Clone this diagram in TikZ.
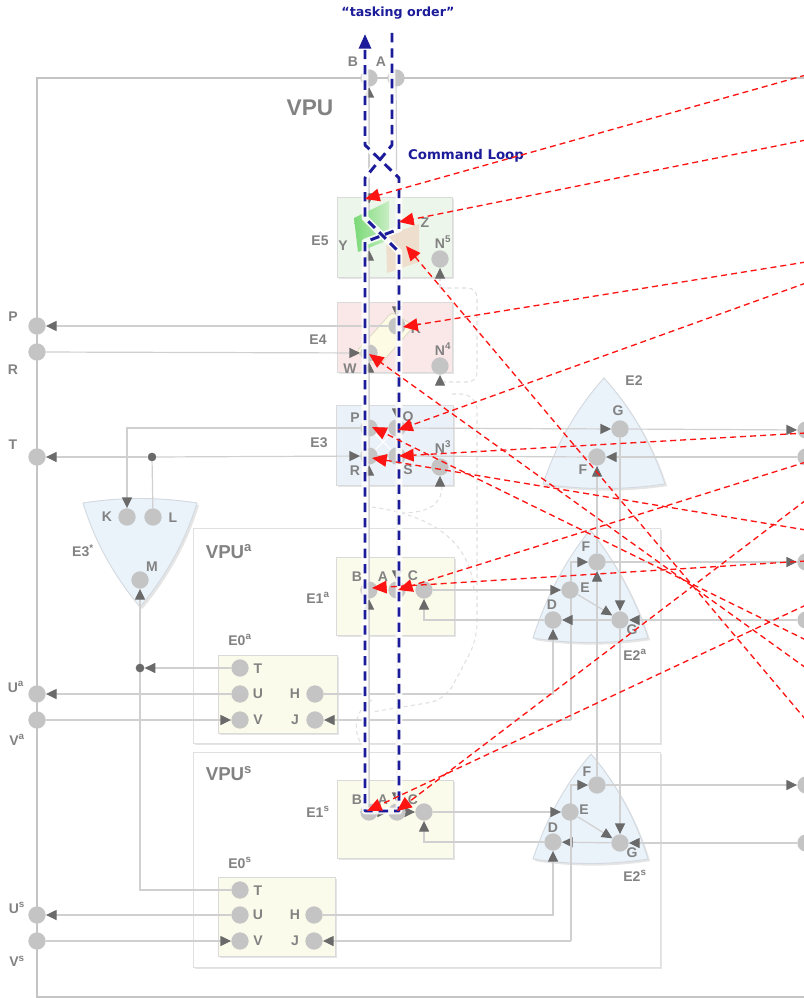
\documentclass[tikz,border=0pt]{standalone}
\usepackage{fontspec}
\setmainfont{Liberation Sans}
\newfontfamily\verdfont{DejaVu Sans}
\usetikzlibrary{arrows.meta,shadows}
\pgfdeclarelayer{bg}
\pgfdeclarelayer{lines}
\pgfdeclarelayer{top}
\pgfsetlayers{bg,lines,main,top}
\definecolor{lblgray}{HTML}{828282}
\definecolor{ahgray}{HTML}{6A6A6A}
\definecolor{portgray}{HTML}{C4C4C4}
\definecolor{linegray}{HTML}{D0D0D0}
\definecolor{boxline}{HTML}{DADADA}
\definecolor{outerline}{HTML}{C4C4C4}
\definecolor{ghostgray}{HTML}{E0E0E0}
\definecolor{cream}{HTML}{FBFBEC}
\definecolor{e5green}{HTML}{EDF6EA}
\definecolor{e4pink}{HTML}{FAE8E8}
\definecolor{e3blue}{HTML}{EAF1F8}
\definecolor{trifill}{HTML}{EAF2FA}
\definecolor{triline}{HTML}{D4DAE0}
\definecolor{loopblue}{HTML}{1C1C9A}
\definecolor{redline}{HTML}{FF1414}
\definecolor{ygreenA}{HTML}{74D870}
\definecolor{ygreenB}{HTML}{C6EEC2}
\definecolor{ztan}{HTML}{EEDCCB}
\definecolor{kcream}{HTML}{FDFBE3}
\tikzset{
  port/.style={circle,fill=portgray,minimum size=13pt,inner sep=0pt},
  dotnode/.style={circle,fill=ahgray,minimum size=6.5pt,inner sep=0pt},
  lbl/.style={text=lblgray,font=\bfseries\fontsize{10.5}{12}\selectfont,inner sep=0pt},
  biglbl/.style={text=lblgray,font=\bfseries\fontsize{17}{19}\selectfont,inner sep=0pt},
  vpulbl/.style={text=lblgray,font=\bfseries\fontsize{14}{16}\selectfont,inner sep=0pt},
  bluelbl/.style={text=loopblue,font=\verdfont\bfseries\fontsize{9.5}{11}\selectfont,inner sep=0pt},
  conn/.style={draw=linegray,line width=0.9pt},
  gtip/.style={-{Triangle[length=8pt,width=7.5pt,color=ahgray]}},
  bothtip/.style={{Triangle[length=8pt,width=7.5pt,color=ahgray]}-{Triangle[length=8pt,width=7.5pt,color=ahgray]}},
  ghost/.style={draw=ghostgray,line width=0.8pt,dash pattern=on 3pt off 2.5pt},
  shd/.style={drop shadow={opacity=0.2,shadow xshift=1.6pt,shadow yshift=-1.6pt}},
  ebox/.style={draw=boxline,line width=0.6pt,shd},
  trist/.style={fill=trifill,draw=triline,line width=0.7pt,shd},
  redarr/.style={draw=redline,line width=1pt,dash pattern=on 4.5pt off 3pt,-{Triangle[length=11pt,width=9.5pt,color=redline]}},
  loopunder/.style={draw=white,line width=5pt,opacity=0.85,line join=round},
  loopline/.style={draw=loopblue,line width=2.2pt,dash pattern=on 7pt off 4.5pt,line join=round},
}
\begin{document}
\begin{tikzpicture}[x=0.75pt,y=-0.75pt]
\useasboundingbox (0,0) rectangle (803,998);

% ---------- ports ----------
\node[port] (pP) at (37,326) {};
\node[port] (pR) at (37,352) {};
\node[port] (pT) at (37,457) {};
\node[port] (pUa) at (37,694) {};
\node[port] (pVa) at (37,720) {};
\node[port] (pUs) at (37,915) {};
\node[port] (pVs) at (37,941) {};
\node[port] (qG) at (806,430) {};
\node[port] (qF) at (806,457) {};
\node[port] (qFa) at (806,562) {};
\node[port] (qGa) at (806,620) {};
\node[port] (qFs) at (806,785) {};
\node[port] (qGs) at (806,843) {};
\node[port] (tB) at (369,78) {};
\node[port] (tA) at (396,78) {};
\coordinate (Ytop) at (369,204);
\coordinate (Ybot) at (369,250);
\coordinate (Zc) at (397,240);
\node[port] (N5) at (440,259) {};
\node[port] (K4) at (397,326) {};
\node[port] (W4) at (369,353) {};
\node[port] (N4) at (440,366) {};
\node[port] (P3) at (369,428) {};
\node[port] (Q3) at (397,428) {};
\node[port] (R3) at (369,456) {};
\node[port] (S3) at (397,456) {};
\node[port] (N3) at (440,467) {};
\node[port] (G2) at (620,429) {};
\node[port] (F2) at (597,457) {};
\node[port] (K3s) at (127,517) {};
\node[port] (L3s) at (153,517) {};
\node[port] (M3s) at (140,580) {};
\node[dotnode] (dotT) at (152,457) {};
\node[dotnode] (dotM) at (140,668) {};
\node[port] (B1a) at (369,590) {};
\node[port] (A1a) at (397,590) {};
\node[port] (C1a) at (424,590) {};
\node[port] (F2a) at (597,562) {};
\node[port] (E2a) at (570,590) {};
\node[port] (D2a) at (553,620) {};
\node[port] (G2a) at (620,620) {};
\node[port] (T0a) at (240,668) {};
\node[port] (U0a) at (240,694) {};
\node[port] (V0a) at (240,720) {};
\node[port] (H0a) at (315,694) {};
\node[port] (J0a) at (315,720) {};
\coordinate (jA) at (571,720);
\node[port] (B1s) at (369,812) {};
\node[port] (A1s) at (397,812) {};
\node[port] (C1s) at (424,812) {};
\node[port] (F2s) at (597,785) {};
\node[port] (E2s) at (570,812) {};
\node[port] (D2s) at (553,842) {};
\node[port] (G2s) at (620,843) {};
\node[port] (T0s) at (240,890) {};
\node[port] (U0s) at (240,915) {};
\node[port] (V0s) at (240,941) {};
\node[port] (H0s) at (314,915) {};
\node[port] (J0s) at (314,941) {};
\coordinate (jS) at (571,941);

% ---------- background: frames, boxes, shapes ----------
\begin{pgfonlayer}{bg}
  \draw[draw=outerline,line width=0.8pt,fill=white,drop shadow={opacity=0.12,shadow xshift=1pt,shadow yshift=-1.5pt}] (37,78) rectangle (806,997);
  \draw[draw=ghostgray,line width=0.7pt,fill=white,shd] (193,528) rectangle (660,743);
  \draw[draw=ghostgray,line width=0.7pt,fill=white,shd] (193,752) rectangle (660,967);
  % faint dashed ghosts
  \draw[ghost,rounded corners=7pt] (440,288) -- (477,288) -- (477,382) -- (440,382);
  \draw[ghost,rounded corners=12pt] (452,394) -- (477,394) -- (477,640) -- (445,700) -- (372,712);
  \draw[ghost] (372,507) .. controls (430,515) and (470,540) .. (474,590);
  \draw[ghost] (442,486) .. controls (442,505) and (428,513) .. (400,513);
  \draw[ghost] (372,700) .. controls (355,710) and (352,730) .. (362,745);
  % element boxes
  \draw[ebox,fill=e5green] (337,197) rectangle (452,277);
  \draw[ebox,fill=e4pink] (337,302) rectangle (452,372);
  \draw[ebox,fill=e3blue] (336,405) rectangle (453,485);
  \draw[ebox,fill=cream] (336,557) rectangle (454,635);
  \draw[ebox,fill=cream] (218,655) rectangle (337,733);
  \draw[ebox,fill=cream] (337,780) rectangle (453,858);
  \draw[ebox,fill=cream] (218,877) rectangle (335,956);
  % E4 inner shape
  \draw[fill=kcream,draw=kcream!85!black,line width=0.5pt,rounded corners=3pt] (356,352) -- (392,312) -- (414,326) -- (378,367) -- cycle;
  % triangles
  \draw[trist] (604,378) .. controls (576,409) and (556,445) .. (543,484) .. controls (583,490) and (625,490) .. (665,484) .. controls (652,445) and (632,409) .. cycle;
  \draw[trist] (590,530) .. controls (564,562) and (545,600) .. (533,638) .. controls (571,644) and (610,644) .. (648,638) .. controls (636,600) and (616,562) .. cycle;
  \draw[trist] (591,754) .. controls (565,784) and (545,822) .. (533,859) .. controls (571,865) and (610,865) .. (648,859) .. controls (637,822) and (617,784) .. cycle;
  \draw[trist] (140,607) .. controls (166,576) and (185,542) .. (197,503) .. controls (159,497) and (121,497) .. (83,503) .. controls (95,542) and (114,576) .. cycle;
\end{pgfonlayer}

% ---------- connectors ----------
\begin{pgfonlayer}{lines}
  \draw[conn,gtip] (K4) -- (pP);
  \draw[conn,gtip] (pR) -- (W4);
  \draw[conn] (P3) -- (Q3);
  \draw[conn,gtip] (Q3) -- (G2);
  \draw[conn,gtip] (G2) -- (qG);
  \draw[conn,gtip] (qF) -- (F2);
  \draw[conn] (S3) -- (F2);
  \draw[conn] (R3) -- (S3);
  \draw[conn,gtip] (dotT) -- (pT);
  \draw[conn,gtip] (dotT) -- (R3);
  \draw[conn] (dotT) -- (L3s);
  \draw[conn,gtip] (P3) -| (K3s);
  \draw[conn,gtip] (T0s) -| (M3s);
  \draw[conn,gtip] (T0a) -- (dotM);
  \draw[conn,gtip] (U0a) -- (pUa);
  \draw[conn,gtip] (pVa) -- (V0a);
  \draw[conn,gtip] (H0a) -| (D2a);
  \draw[conn,gtip] (jA) -- (J0a);
  \draw[conn,gtip] (jA) |- (F2a);
  \draw[conn,gtip] (C1a) -- (E2a);
  \draw[conn,gtip] (qGa) -- (G2a);
  \draw[conn,gtip] (G2a) -- (D2a);
  \draw[conn,gtip] (D2a) -| (C1a);
  \draw[conn,gtip] (E2a) -- (G2a);
  \draw[conn,gtip] (F2a) -- (qFa);
  \draw[conn,gtip] (F2a) -- (F2);
  \draw[conn,gtip] (F2s) -- (F2a);
  \draw[conn,gtip] (G2) -- (G2a);
  \draw[conn,gtip] (G2a) -- (G2s);
  \draw[conn,gtip] (B1s) -- (A1s);
  \draw[conn,gtip] (A1s) -- (C1s);
  \draw[conn,gtip] (C1s) -- (E2s);
  \draw[conn,gtip] (qGs) -- (G2s);
  \draw[conn,gtip] (G2s) -- (D2s);
  \draw[conn,gtip] (D2s) -| (C1s);
  \draw[conn,gtip] (E2s) -- (G2s);
  \draw[conn,gtip] (F2s) -- (qFs);
  \draw[conn,gtip] (H0s) -| (D2s);
  \draw[conn,gtip] (jS) -- (J0s);
  \draw[conn,gtip] (jS) |- (F2s);
  \draw[conn,gtip] (U0s) -- (pUs);
  \draw[conn,gtip] (pVs) -- (V0s);
  % vertical chains
  \draw[conn,gtip] (B1s) -- (B1a);
  \draw[conn,gtip] (B1a) -- (R3);
  \draw[conn] (R3) -- (P3);
  \draw[conn,gtip] (P3) -- (W4);
  \draw[conn,gtip] (W4) -- (Ybot);
  \draw[conn] (Ybot) -- (Ytop);
  \draw[conn,bothtip] (tB) -- (Ytop);
  \draw[conn] (tA) -- (Zc);
  \draw[conn,gtip] (Zc) -- (K4);
  \draw[conn,gtip] (K4) -- (Q3);
  \draw[conn] (Q3) -- (S3);
  \draw[conn,gtip] (S3) -- (A1a);
  \draw[conn,gtip] (A1a) -- (A1s);
  % faint diagonals inside E3
  \draw[white,line width=0.8pt] (P3) -- (S3);
  \draw[white,line width=0.8pt] (Q3) -- (R3);
  % N ports fed from below
  \coordinate (n5g) at (440,288);
  \coordinate (n4g) at (440,382);
  \coordinate (n3g) at (440,486);
  \draw[ghost,gtip] (n5g) -- (N5);
  \draw[ghost,gtip] (n4g) -- (N4);
  \draw[ghost,gtip] (n3g) -- (N3);
\end{pgfonlayer}

% ---------- E5 inner shapes (over ports) ----------
\shade[left color=ygreenA,right color=ygreenB,opacity=0.95] (354,218) -- (389,201) -- (389,240) -- (358,252) -- cycle;
\fill[ztan,opacity=0.9] (386,236) -- (419,224) -- (419,262) -- (387,273) -- cycle;

% ---------- labels ----------
\begin{pgfonlayer}{top}
  \node[biglbl] (lVPU) at (310,108) {VPU};
  \node[vpulbl] (lVPUa) at (229,552) {VPU\textsuperscript{a}};
  \node[vpulbl] (lVPUs) at (229,774) {VPU\textsuperscript{s}};
  \node[lbl] at (353,62) {B};
  \node[lbl] at (381,62) {A};
  \node[lbl] at (13,317) {P};
  \node[lbl] at (13,370) {R};
  \node[lbl] at (13,445) {T};
  \node[lbl] at (16,687) {U\textsuperscript{a}};
  \node[lbl] at (17,740) {V\textsuperscript{a}};
  \node[lbl] at (17,908) {U\textsuperscript{s}};
  \node[lbl] at (17,961) {V\textsuperscript{s}};
  % E5
  \node[lbl] at (320,241) {E5};
  \node[lbl] at (343,246) {Y};
  \node[lbl] at (425,223) {Z};
  \node[lbl] at (443,242) {N\textsuperscript{5}};
  % E4
  \node[lbl] at (318,340) {E4};
  \node[lbl] at (416,329) {K};
  \node[lbl] at (350,369) {W};
  \node[lbl] at (443,349) {N\textsuperscript{4}};
  % E3
  \node[lbl] at (319,443) {E3};
  \node[lbl] at (355,418) {P};
  \node[lbl] at (408,418) {Q};
  \node[lbl] at (355,471) {R};
  \node[lbl] at (408,470) {S};
  \node[lbl] at (443,447) {N\textsuperscript{3}};
  % E2
  \node[lbl] at (634,381) {E2};
  \node[lbl] at (618,411) {G};
  \node[lbl] at (583,470) {F};
  % E3*
  \node[lbl] at (83,551) {E3\textsuperscript{*}};
  \node[lbl] at (107,517) {K};
  \node[lbl] at (173,518) {L};
  \node[lbl] at (152,567) {M};
  % E1a
  \node[lbl] at (318,598) {E1\textsuperscript{a}};
  \node[lbl] at (357,577) {B};
  \node[lbl] at (383,577) {A};
  \node[lbl] at (413,576) {C};
  % E2a
  \node[lbl] at (586,547) {F};
  \node[lbl] at (585,588) {E};
  \node[lbl] at (552,605) {D};
  \node[lbl] at (632,630) {G};
  \node[lbl] at (635,655) {E2\textsuperscript{a}};
  % E0a
  \node[lbl] at (240,640) {E0\textsuperscript{a}};
  \node[lbl] at (258,669) {T};
  \node[lbl] at (258,694) {U};
  \node[lbl] at (258,720) {V};
  \node[lbl] at (295,694) {H};
  \node[lbl] at (295,720) {J};
  % E1s
  \node[lbl] at (318,812) {E1\textsuperscript{s}};
  \node[lbl] at (357,800) {B};
  \node[lbl] at (383,800) {A};
  \node[lbl] at (413,800) {C};
  % E2s
  \node[lbl] at (587,772) {F};
  \node[lbl] at (584,810) {E};
  \node[lbl] at (553,828) {D};
  \node[lbl] at (632,853) {G};
  \node[lbl] at (635,876) {E2\textsuperscript{s}};
  % E0s
  \node[lbl] at (240,863) {E0\textsuperscript{s}};
  \node[lbl] at (258,891) {T};
  \node[lbl] at (258,915) {U};
  \node[lbl] at (258,941) {V};
  \node[lbl] at (295,915) {H};
  \node[lbl] at (295,941) {J};

  % ---------- command loop ----------
  \node[bluelbl] (ltask) at (398,13) {“tasking order”};
  \node[bluelbl,font=\verdfont\bfseries\fontsize{10}{12}\selectfont] (lloop) at (466,156) {Command Loop};
  \coordinate (c1) at (392,33);
  \coordinate (c2) at (392,145);
  \coordinate (c3) at (365,178);
  \coordinate (c4) at (365,218);
  \coordinate (c5) at (399,252);
  \coordinate (c6) at (399,811);
  \coordinate (c7) at (365,811);
  \coordinate (c8) at (365,242);
  \coordinate (c9) at (399,229);
  \coordinate (c10) at (399,178);
  \coordinate (c11) at (365,145);
  \coordinate (c12) at (365,34);
  \draw[loopunder] (c1) -- (c2) -- (c3) -- (c4) -- (c5) -- (c6) -- (c7) -- (c8) -- (c9) -- (c10) -- (c11) -- (365,52);
  \draw[loopline,-{Triangle[length=11pt,width=9pt,color=loopblue]}] (c1) -- (c2) -- (c3) -- (c4) -- (c5) -- (c6) -- (c7) -- (c8) -- (c9) -- (c10) -- (c11) -- (c12);

  % ---------- red dashed arrows ----------
  \coordinate (rs1) at (806,75);   \coordinate (re1) at (365,199);
  \coordinate (rs2) at (806,140);  \coordinate (re2) at (399,222);
  \coordinate (rs3) at (806,262);  \coordinate (re3) at (403,327);
  \coordinate (rs4) at (806,283);  \coordinate (re4) at (398,430);
  \coordinate (rs5) at (806,433);  \coordinate (re5) at (399,456);
  \coordinate (rs6) at (806,462);  \coordinate (re6) at (398,590);
  \coordinate (rs7) at (806,500);  \coordinate (re7) at (397,811);
  \coordinate (rs8) at (806,530);  \coordinate (re8) at (372,458);
  \coordinate (rs9) at (806,561);  \coordinate (re9) at (372,588);
  \coordinate (rs10) at (806,605); \coordinate (re10) at (367,811);
  \coordinate (rs11) at (806,640); \coordinate (re11) at (372,427);
  \coordinate (rs12) at (806,668); \coordinate (re12) at (369,354);
  \coordinate (rs13) at (806,720); \coordinate (re13) at (406,246);
  \foreach \i in {1,...,13} {\draw[redarr] (rs\i) -- (re\i);}
\end{pgfonlayer}
\end{tikzpicture}
\end{document}
